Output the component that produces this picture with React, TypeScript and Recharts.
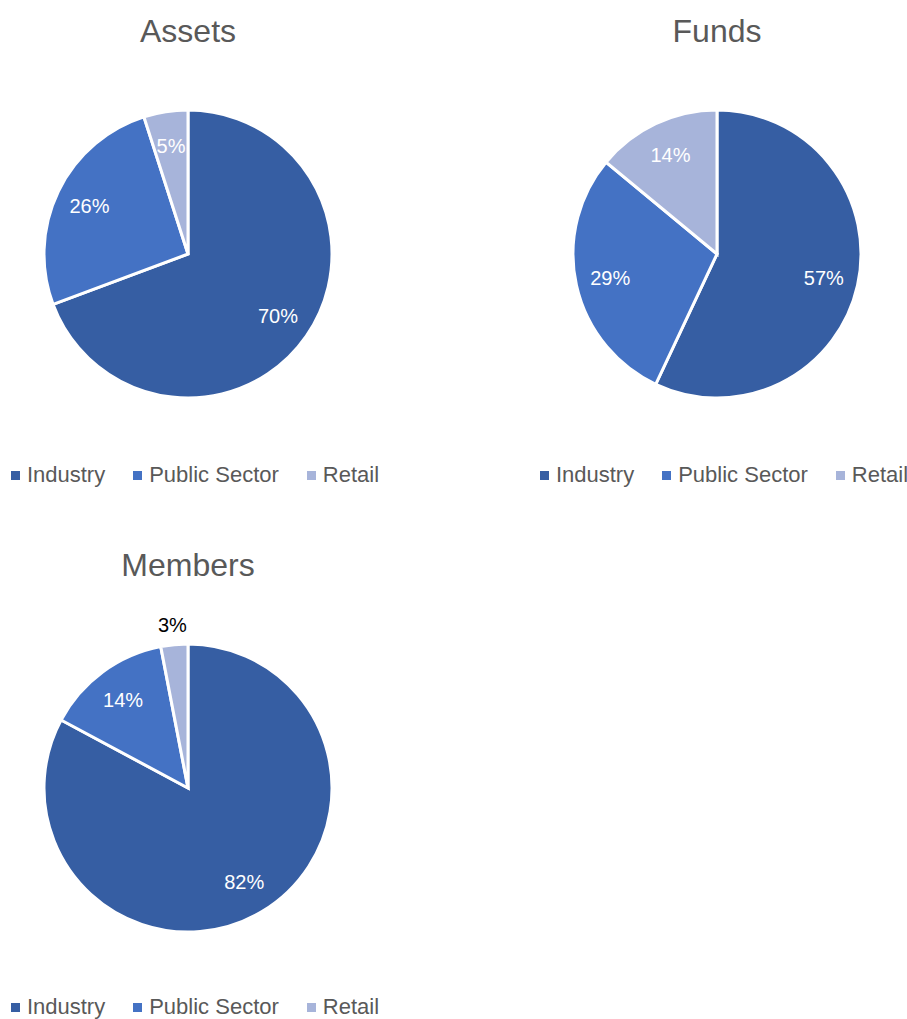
import React from 'react'
import { PieChart, Pie, Cell, Legend } from 'recharts'

const categories = ['Industry', 'Public Sector', 'Retail']
const colors = ['#365EA3', '#4472C4', '#A7B4DA']

const assets = [70, 26, 5]
const funds = [57, 29, 14]
const members = [82, 14, 3]

const FONT = '"Liberation Sans", Arial, sans-serif'
const RAD = Math.PI / 180

function toData(values: number[]) {
    return categories.map((name, i) => ({ name, value: values[i] }))
}

function renderLabel(props: any) {
    const { cx, cy, midAngle, outerRadius, value, percent } = props
    const outside = percent < 0.04
    const r = outside ? outerRadius + 20 : outerRadius * 0.76
    const x = cx + r * Math.cos(-midAngle * RAD)
    const y = cy + r * Math.sin(-midAngle * RAD)
    return (
        <text x={x} y={y} fill={outside ? '#000000' : '#ffffff'} fontSize={20} fontFamily={FONT}
            textAnchor="middle" dominantBaseline="central">
            {value}%
        </text>
    )
}

function LegendContent() {
    return (
        <div style={{ display: 'flex', justifyContent: 'center', gap: 28, fontFamily: FONT, fontSize: 22, color: '#595959', lineHeight: '24px' }}>
            {categories.map((c, i) => (
                <div key={c} style={{ display: 'flex', alignItems: 'center' }}>
                    <span style={{ display: 'inline-block', width: 9, height: 9, background: colors[i], marginRight: 7 }} />
                    <span>{c}</span>
                </div>
            ))}
        </div>
    )
}

function OnePie(props: { title: string, values: number[], left: number, top: number, height: number, legendTop: number }) {
    const { title, values, left, top, height, legendTop } = props
    return (
        <div style={{ position: 'absolute', left, top, width: 390, height }}>
            <div style={{ position: 'absolute', left: 0, width: 376, top: 15, textAlign: 'center', fontFamily: FONT, fontSize: 32, lineHeight: '32px', color: '#595959' }}>
                {title}
            </div>
            <PieChart width={390} height={height} margin={{ top: 0, right: 0, bottom: 0, left: 0 }}>
                <Pie data={toData(values)} dataKey="value" nameKey="name" cx={188} cy={254} outerRadius={144}
                    startAngle={90} endAngle={-270} stroke="#ffffff" strokeWidth={3}
                    label={renderLabel} labelLine={false} isAnimationActive={false}>
                    {values.map((_, i) => <Cell key={i} fill={colors[i]} />)}
                </Pie>
                <Legend content={<LegendContent />} wrapperStyle={{ position: 'absolute', left: 0, width: 390, top: legendTop }} />
            </PieChart>
        </div>
    )
}

export default function App() {
    return (
        <div style={{ position: 'absolute', left: 0, top: 0, width: 907, height: 1019, background: '#ffffff', overflow: 'hidden' }}>
            <OnePie title="Assets" values={assets} left={0} top={0} height={500} legendTop={463} />
            <OnePie title="Funds" values={funds} left={529} top={0} height={500} legendTop={463} />
            <OnePie title="Members" values={members} left={0} top={534} height={485} legendTop={461} />
        </div>
    )
}
